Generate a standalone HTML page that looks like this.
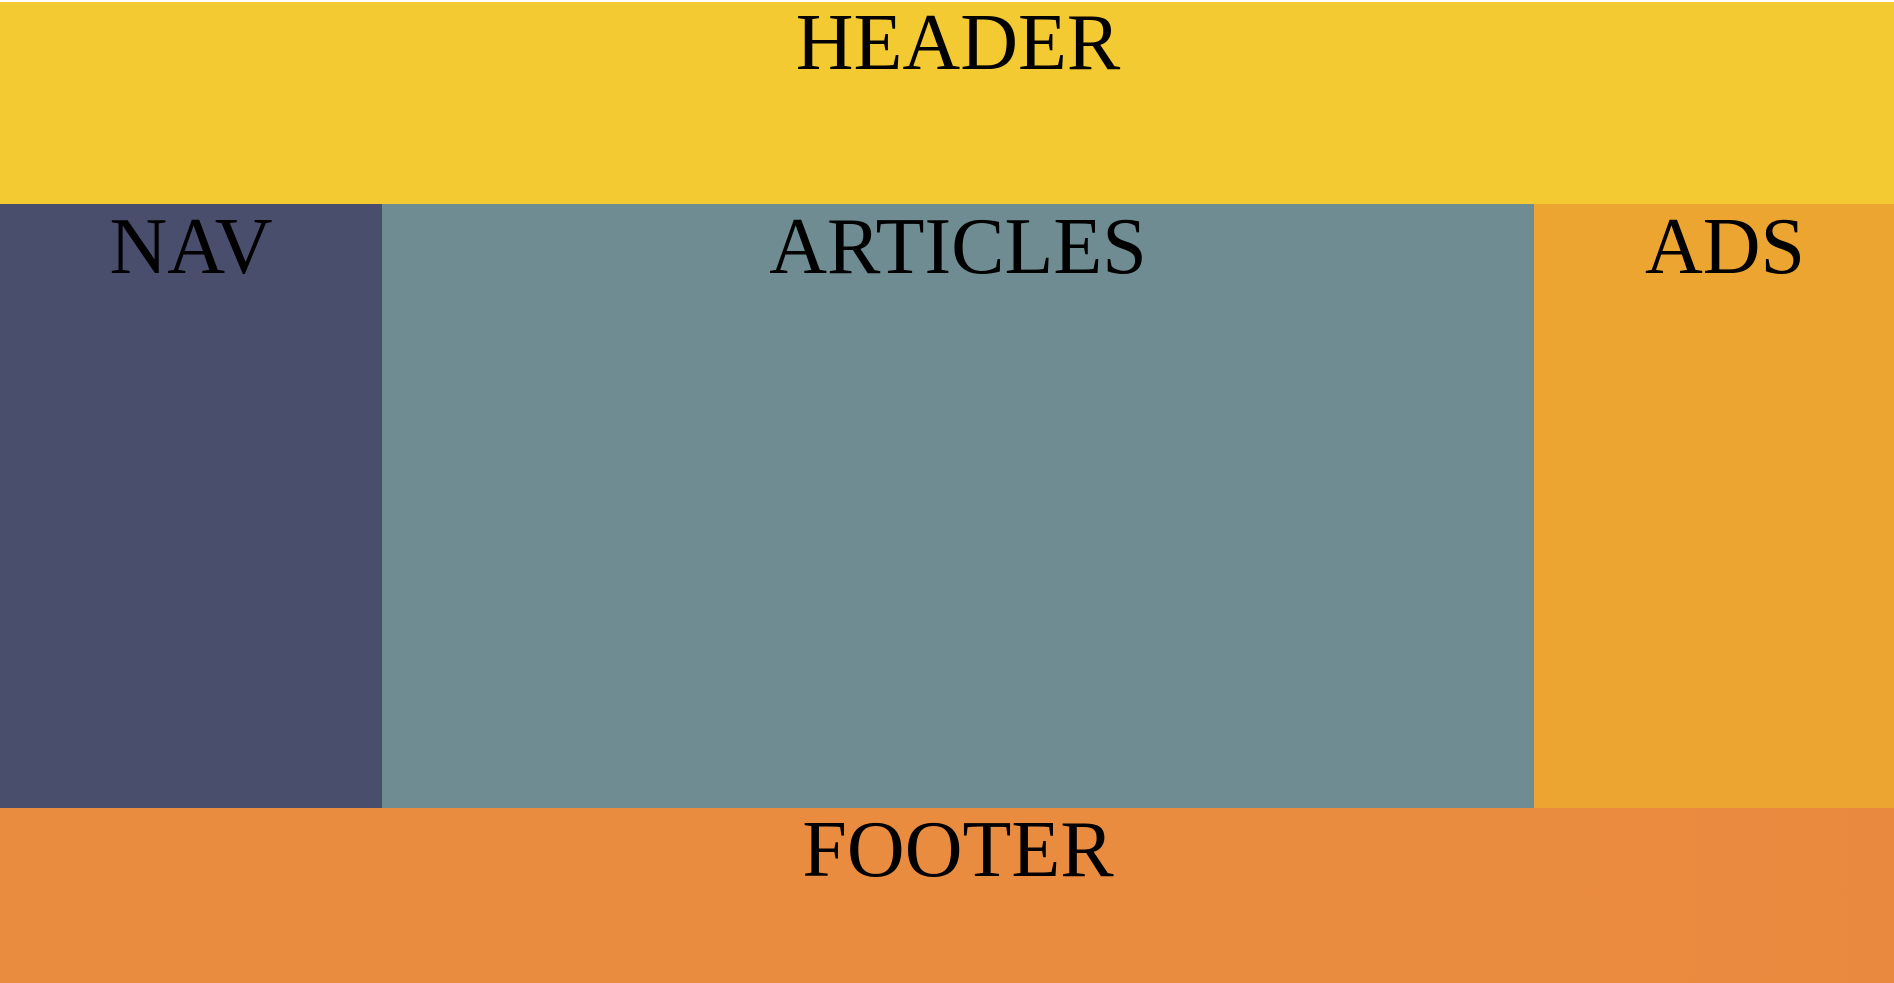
<!DOCTYPE html>
<html><head><style>
html,body{margin:0;padding:0;width:1894px;height:983px;overflow:hidden;background:#fff}
div{position:absolute;box-sizing:border-box;text-align:center;font-family:"Liberation Serif",serif;font-size:80px;color:#000;line-height:93px}
.t{position:absolute;left:0;right:0;top:0}
</style></head><body>
<div style="left:0;top:2px;width:1894px;height:202px;background:#F3CA31"><span class="t" style="top:-5px;left:22px">HEADER</span></div>
<div style="left:0;top:204px;width:382px;height:604px;background:#4A4E6D"><span class="t" style="top:-3px">NAV</span></div>
<div style="left:382px;top:204px;width:1152px;height:604px;background:#6E8C91"><span class="t" style="top:-3px">ARTICLES</span></div>
<div style="left:1534px;top:204px;width:360px;height:604px;background:#EDA532"><span class="t" style="top:-3px;left:22px">ADS</span></div>
<div style="left:0;top:808px;width:1894px;height:175px;background:linear-gradient(90deg,#EA8C40,#EA8C40 80%,#E9893F)"><span class="t" style="top:-4px;left:22px">FOOTER</span></div>
</body></html>
